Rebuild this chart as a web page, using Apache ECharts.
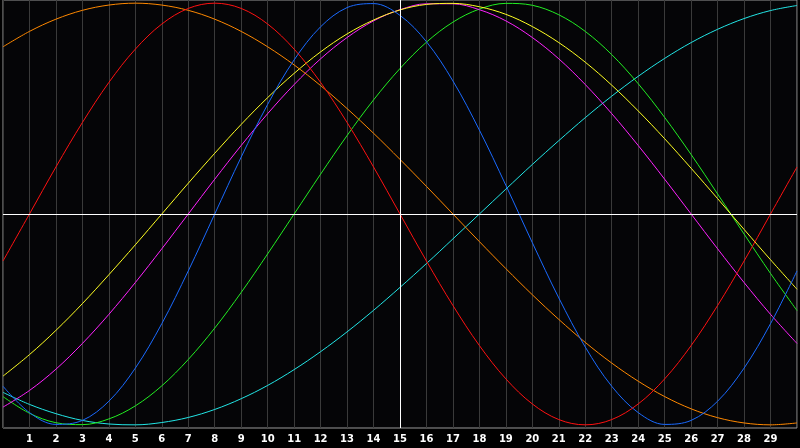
<!DOCTYPE html>
<html>
<head>
<meta charset="utf-8">
<script src="https://cdn.jsdelivr.net/npm/echarts@6/dist/echarts.min.js"></script>
<style>
html,body{margin:0;padding:0;background:#000;}
#c{width:800px;height:448px;}
</style>
</head>
<body>
<div id="c"></div>
<script>
var days = [0,1,2,3,4,5,6,7,8,9,10,11,12,13,14,15,16,17,18,19,20,21,22,23,24,25,26,27,28,29,30];
var tickLabels = ['1','2','3','4','5','6','7','8','9','10','11','12','13','14','15','16','17','18','19','20','21','22','23','24','25','26','27','28','29'];
var redVals = [-0.223,0,0.223,0.434,0.624,0.782,0.901,0.975,1,0.975,0.901,0.782,0.624,0.434,0.223,0,-0.223,-0.434,-0.624,-0.782,-0.901,-0.975,-1,-0.975,-0.901,-0.782,-0.624,-0.434,-0.223,0,0.223];
var orangeVals = [0.793,0.866,0.924,0.966,0.991,1,0.991,0.966,0.924,0.866,0.793,0.707,0.609,0.5,0.383,0.259,0.131,0,-0.131,-0.259,-0.383,-0.5,-0.609,-0.707,-0.793,-0.866,-0.924,-0.966,-0.991,-1,-0.991];
var blueVals = [-0.817,-0.942,-0.998,-0.979,-0.888,-0.731,-0.520,-0.270,0,0.270,0.520,0.731,0.888,0.979,0.998,0.942,0.817,0.631,0.398,0.136,-0.136,-0.398,-0.631,-0.817,-0.942,-0.998,-0.979,-0.888,-0.731,-0.520,-0.270];
var yellowVals = [-0.769,-0.667,-0.552,-0.425,-0.288,-0.146,0,0.146,0.288,0.425,0.552,0.667,0.769,0.854,0.920,0.968,0.994,0.999,0.983,0.947,0.889,0.813,0.720,0.611,0.489,0.357,0.217,0.073,-0.073,-0.217,-0.357];
var magentaVals = [-0.916,-0.837,-0.736,-0.614,-0.476,-0.325,-0.165,0,0.165,0.325,0.476,0.614,0.736,0.837,0.916,0.969,0.997,0.997,0.969,0.916,0.837,0.736,0.614,0.476,0.325,0.165,0,-0.165,-0.325,-0.476,-0.614];
var greenVals = [-0.866,-0.945,-0.990,-0.999,-0.972,-0.910,-0.815,-0.690,-0.541,-0.372,-0.189,0,0.189,0.372,0.541,0.690,0.815,0.910,0.972,0.999,0.990,0.945,0.866,0.756,0.618,0.458,0.282,0.095,-0.095,-0.282,-0.458];
var cyanVals = [-0.846,-0.903,-0.947,-0.979,-0.996,-1.0,-0.989,-0.965,-0.927,-0.876,-0.813,-0.738,-0.653,-0.559,-0.457,-0.348,-0.235,-0.118,0,0.118,0.235,0.348,0.457,0.559,0.653,0.738,0.813,0.876,0.927,0.965,0.989];
var todayMark = 15;

var seriesDefs = [
  {name:'cyan', vals:cyanVals, color:'#22e6e6'},
  {name:'green', vals:greenVals, color:'#22ee22'},
  {name:'magenta', vals:magentaVals, color:'#ff22ff'},
  {name:'yellow', vals:yellowVals, color:'#ffff22'},
  {name:'orange', vals:orangeVals, color:'#ff8800'},
  {name:'blue', vals:blueVals, color:'#1a6aff'},
  {name:'red', vals:redVals, color:'#ff1111'}
];

var chart = echarts.init(document.getElementById('c'), null, {renderer:'canvas'});
var series = seriesDefs.map(function(s){
  return {
    name:s.name, type:'line', smooth:0.35, showSymbol:false, symbol:'none',
    data: days.map(function(d,i){return [d, s.vals[i]];}),
    lineStyle:{color:s.color, width:1}, itemStyle:{color:s.color},
    z:2, silent:true
  };
});
series.push({
  type:'line', data:[], z:5, silent:true,
  markLine:{
    silent:true, symbol:'none', label:{show:false},
    lineStyle:{color:'#ffffff', width:1, type:'solid'},
    data:[{xAxis:todayMark},{yAxis:0}],
    animation:false
  }
});

chart.setOption({
  animation:false,
  backgroundColor:'#000000',
  grid:{left:0, right:0, top:0, bottom:20, show:true, backgroundColor:'#050507', borderColor:'#9a9a9a', borderWidth:1},
  xAxis:{
    type:'value', min:0, max:30, interval:1,
    axisLine:{show:false}, axisTick:{show:false},
    splitLine:{show:true, lineStyle:{color:'#3a3a3a', width:1}},
    axisLabel:{
      show:true, color:'#ffffff', fontWeight:'bold', fontSize:10,
      fontFamily:'DejaVu Sans', margin:6,
      formatter:function(v){ return (v>=1 && v<=tickLabels.length) ? tickLabels[v-1] : ''; }
    }
  },
  yAxis:{
    type:'value', min:-1.015, max:1.015,
    axisLine:{show:false}, axisTick:{show:false}, axisLabel:{show:false}, splitLine:{show:false}
  },
  series:series
});
</script>
</body>
</html>
